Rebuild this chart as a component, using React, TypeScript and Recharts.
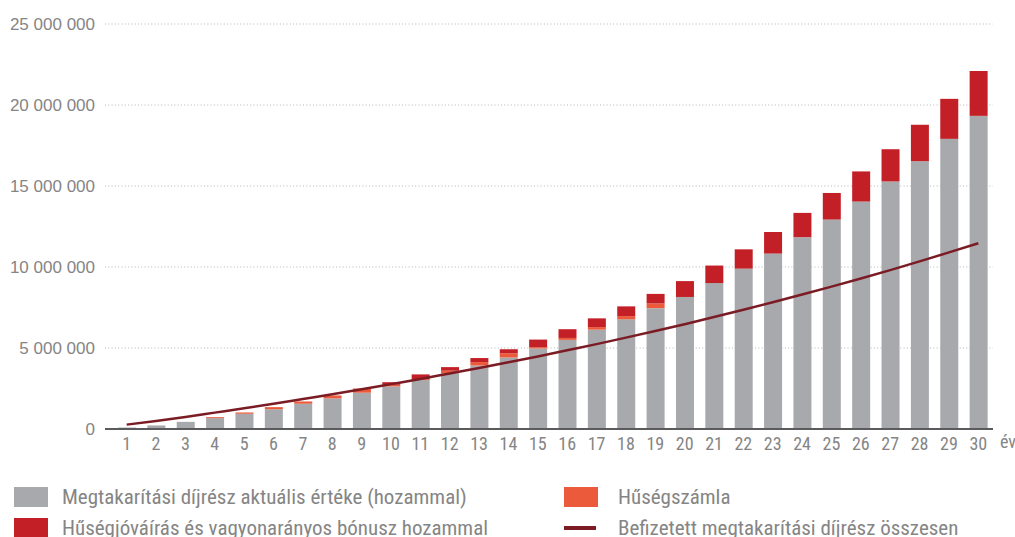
import { ComposedChart, Bar, Line, XAxis, YAxis, CartesianGrid } from 'recharts';

// év (years)
const years = ['1', '2', '3', '4', '5', '6', '7', '8', '9', '10', '11', '12', '13', '14', '15',
    '16', '17', '18', '19', '20', '21', '22', '23', '24', '25', '26', '27', '28', '29', '30'];

// Megtakarítási díjrész aktuális értéke (hozammal)
const savingsValue = [90000, 220000, 440000, 670000, 940000, 1220000, 1560000, 1890000, 2240000, 2630000,
    3020000, 3440000, 3920000, 4410000, 4970000, 5500000, 6130000, 6770000, 7460000, 8150000,
    9010000, 9900000, 10830000, 11840000, 12930000, 14040000, 15280000, 16530000, 17910000, 19330000];

// Hűségszámla
const loyaltyAccount = [0, 0, 0, 60000, 80000, 130000, 140000, 180000, 260000, 100000,
    60000, 160000, 210000, 260000, 80000, 120000, 160000, 200000, 290000, 0,
    0, 0, 0, 0, 0, 0, 0, 0, 0, 0];

// Hűségjóváírás és vagyonarányos bónusz hozammal
const loyaltyBonus = [0, 0, 0, 0, 0, 0, 0, 0, 0, 160000,
    290000, 220000, 250000, 250000, 470000, 540000, 540000, 600000, 590000, 980000,
    1080000, 1190000, 1330000, 1500000, 1640000, 1860000, 1990000, 2250000, 2470000, 2770000];

// Befizetett megtakarítási díjrész összesen
const paidTotal = [270000, 490000, 740000, 1010000, 1280000, 1560000, 1850000, 2140000, 2450000, 2770000,
    3090000, 3430000, 3770000, 4120000, 4480000, 4860000, 5240000, 5640000, 6050000, 6470000,
    6910000, 7360000, 7820000, 8300000, 8790000, 9290000, 9810000, 10350000, 10900000, 11470000];

const yTicks = [0, 5000000, 10000000, 15000000, 20000000, 25000000];

const GRAY = '#a7a9ac';
const ORANGE = '#ec5a3c';
const RED = '#c31f26';
const MAROON = '#7b1c25';
const TEXT = '#858585';

const NARROW = "'Liberation Sans Narrow', 'Arial Narrow', 'Roboto Condensed', 'Liberation Sans', sans-serif";

const data = years.map((year, i) => ({
    year,
    savings: savingsValue[i],
    loyalty: loyaltyAccount[i],
    bonus: loyaltyBonus[i],
    paid: paidTotal[i],
}));

const formatNumber = (v: number) => String(v).replace(/\B(?=(\d{3})+(?!\d))/g, ' ');

const legendItems = [
    { label: 'Megtakarítási díjrész aktuális értéke (hozammal)', color: GRAY, type: 'rect', left: 14, top: 486, gap: 14 },
    { label: 'Hűségszámla', color: ORANGE, type: 'rect', left: 564, top: 486, gap: 20 },
    { label: 'Hűségjóváírás és vagyonarányos bónusz hozammal', color: RED, type: 'rect', left: 14, top: 517, gap: 14 },
    { label: 'Befizetett megtakarítási díjrész összesen', color: MAROON, type: 'line', left: 564, top: 517, gap: 20 },
];

export default function App() {
    return (
        <div style={{ position: 'absolute', left: 0, top: 0, width: 1015, height: 537, overflow: 'hidden', background: '#fff' }}>
            <ComposedChart
                width={1015}
                height={537}
                data={data}
                margin={{ top: 24, right: 22, left: 0, bottom: 78 }}
                barSize={18}
            >
                <CartesianGrid vertical={false} stroke="#b5b5b5" strokeDasharray="1 2.3" />
                <XAxis
                    dataKey="year"
                    padding={{ left: 7, right: 0 }}
                    tickLine={false}
                    axisLine={{ stroke: '#5b5b5d', strokeWidth: 2 }}
                    tick={{ fontSize: 18, fill: TEXT, fontFamily: NARROW }}
                    tickMargin={2}
                    interval={0}
                    label={{ value: 'év', position: 'right', offset: 7, fontSize: 18, fill: TEXT, fontFamily: NARROW, dy: -2 }}
                />
                <YAxis
                    width={105}
                    domain={[0, 25000000]}
                    ticks={yTicks}
                    tickFormatter={formatNumber}
                    tickLine={false}
                    axisLine={false}
                    tickMargin={4}
                    tick={{ fontSize: 17, fill: TEXT, fontFamily: "'Liberation Sans', Arial, sans-serif" }}
                />
                <Bar dataKey="savings" stackId="a" fill={GRAY} isAnimationActive={false} />
                <Bar dataKey="loyalty" stackId="a" fill={ORANGE} isAnimationActive={false} />
                <Bar dataKey="bonus" stackId="a" fill={RED} isAnimationActive={false} />
                <Line
                    type="monotone"
                    dataKey="paid"
                    stroke={MAROON}
                    strokeWidth={2.5}
                    dot={false}
                    activeDot={false}
                    isAnimationActive={false}
                />
            </ComposedChart>
            {legendItems.map((item) => (
                <div
                    key={item.label}
                    style={{ position: 'absolute', left: item.left, top: item.top, height: 22, display: 'flex', alignItems: 'center' }}
                >
                    {item.type === 'rect' ? (
                        <div style={{ width: 34, height: 20, background: item.color }} />
                    ) : (
                        <div style={{ width: 34, height: 20, display: 'flex', alignItems: 'center' }}>
                            <div style={{ width: 32, height: 4, background: item.color }} />
                        </div>
                    )}
                    <span style={{ marginLeft: item.gap, fontSize: 21, color: TEXT, fontFamily: NARROW, whiteSpace: 'nowrap' }}>
                        {item.label}
                    </span>
                </div>
            ))}
        </div>
    );
}
